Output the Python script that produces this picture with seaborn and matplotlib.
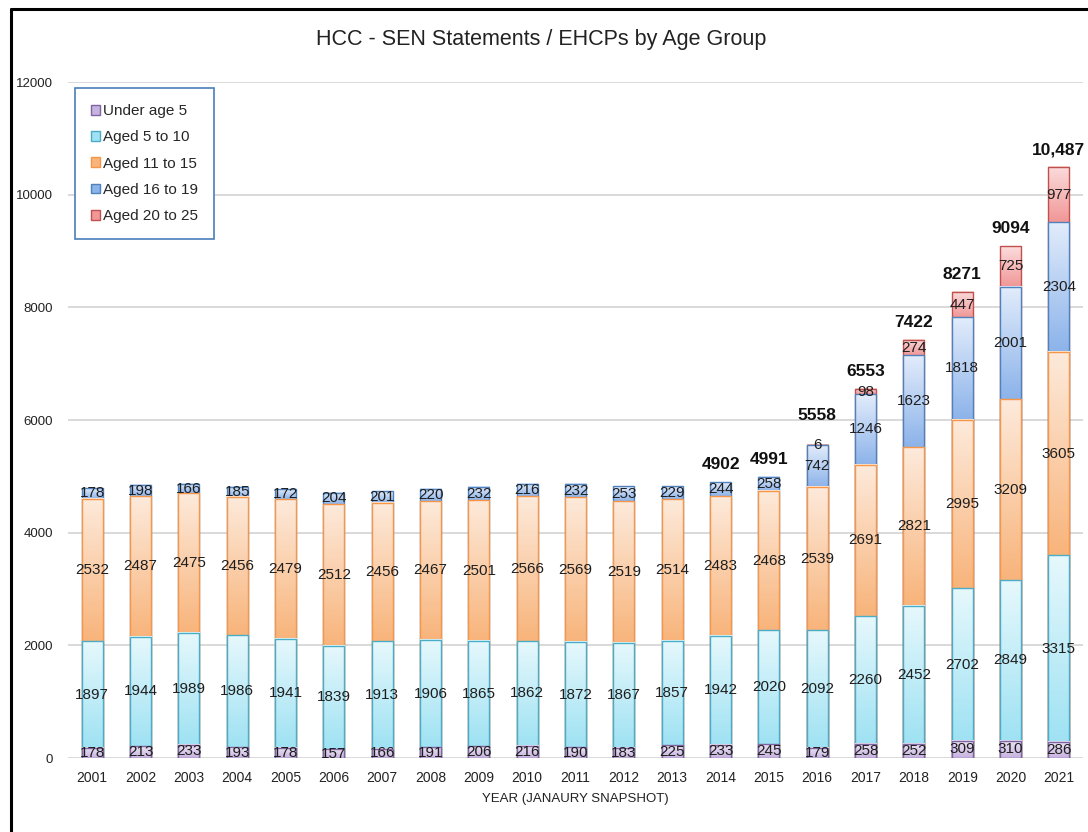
import numpy as np
import pandas as pd
import matplotlib.pyplot as plt
import seaborn as sns
from matplotlib import font_manager
from matplotlib.patches import Patch
from matplotlib.lines import Line2D
from matplotlib.colors import to_rgb

years = [2001, 2002, 2003, 2004, 2005, 2006, 2007, 2008, 2009, 2010, 2011,
         2012, 2013, 2014, 2015, 2016, 2017, 2018, 2019, 2020, 2021]
under_5 = [178, 213, 233, 193, 178, 157, 166, 191, 206, 216, 190,
           183, 225, 233, 245, 179, 258, 252, 309, 310, 286]
aged_5_10 = [1897, 1944, 1989, 1986, 1941, 1839, 1913, 1906, 1865, 1862, 1872,
             1867, 1857, 1942, 2020, 2092, 2260, 2452, 2702, 2849, 3315]
aged_11_15 = [2532, 2487, 2475, 2456, 2479, 2512, 2456, 2467, 2501, 2566, 2569,
              2519, 2514, 2483, 2468, 2539, 2691, 2821, 2995, 3209, 3605]
aged_16_19 = [178, 198, 166, 185, 172, 204, 201, 220, 232, 216, 232,
              253, 229, 244, 258, 742, 1246, 1623, 1818, 2001, 2304]
aged_20_25 = [0, 0, 0, 0, 0, 0, 0, 0, 0, 0, 0,
              0, 0, 0, 0, 6, 98, 274, 447, 725, 977]
groups = ['Under age 5', 'Aged 5 to 10', 'Aged 11 to 15', 'Aged 16 to 19', 'Aged 20 to 25']
first_total_year = 2014

# gradient colours (top, bottom) and outline per group
top_cols = ['#ece4f5', '#e6f8fc', '#fdeadb', '#e2ecfb', '#fbdcdc']
bot_cols = ['#c7b3df', '#9fe2f3', '#f8b47b', '#8cb3ea', '#f19797']
edge_cols = ['#8064a2', '#4bacc6', '#f79646', '#4f81bd', '#c0504d']

sns.set_theme(style="white")
plt.rcParams['font.family'] = ['Liberation Sans', 'DejaVu Sans']
names = {f.name for f in font_manager.fontManager.ttflist}
if 'Liberation Sans Narrow' in names:
    lab_font, lab_size = ['Liberation Sans Narrow', 'Liberation Sans'], 12.5
else:
    lab_font, lab_size = ['Liberation Sans', 'DejaVu Sans'], 11

fig = plt.figure(figsize=(10.88, 8.32), dpi=100)
ax = fig.add_axes([0.0625, 0.0889, 0.933, 0.8125])

values = [under_5, aged_5_10, aged_11_15, aged_16_19, aged_20_25]
cum = np.cumsum(np.array(values), axis=0)
df = pd.DataFrame({'Year': years})

for k in reversed(range(len(groups))):
    z = 2 + (len(groups) - k) * 2
    df['top'] = cum[k]
    n0 = len(ax.patches)
    sns.barplot(data=df, x='Year', y='top', color=edge_cols[k], saturation=1,
                width=0.435, edgecolor=edge_cols[k], linewidth=1.0,
                errorbar=None, ax=ax, zorder=z + 0.5)
    grad = np.linspace(to_rgb(top_cols[k]), to_rgb(bot_cols[k]), 64)[:, None, :]
    for j, p in enumerate(ax.patches[n0:]):
        lo = cum[k - 1][j] if k > 0 else 0
        hi = cum[k][j]
        if values[k][j] == 0:
            p.set_visible(False)
            continue
        p.set_facecolor('none')
        x0 = p.get_x()
        ax.imshow(grad, extent=(x0, x0 + p.get_width(), lo, hi),
                  aspect='auto', zorder=z, interpolation='bilinear')
        ax.text(j, (lo + hi) / 2, str(values[k][j]), ha='center', va='center',
                fontsize=lab_size, family=lab_font, color='#1e1e1e', zorder=40)

totals = cum[-1]
for j, yr in enumerate(years):
    if yr < first_total_year:
        continue
    t = int(totals[j])
    txt = f'{t:,}' if t >= 10000 else str(t)
    extra = 9 if yr == 2016 else 0
    ax.annotate(txt, (j, t), xytext=(0, 7 + extra), textcoords='offset points',
                ha='center', va='bottom', fontsize=12.5, weight='bold',
                color='#111111', zorder=40)

ax.set_xlim(-0.5, len(years) - 0.5)
ax.set_ylim(0, 12000)
ax.set_yticks(range(0, 12001, 2000))
ax.yaxis.grid(True, color='#d9d9d9', linewidth=1.4)
ax.xaxis.grid(False)
ax.set_axisbelow(True)
for s in ax.spines.values():
    s.set_visible(False)
ax.tick_params(axis='both', length=0, labelsize=10, colors='#222222')
ax.tick_params(axis='x', pad=9)
ax.tick_params(axis='y', pad=11, labelsize=9.5)
ax.set_xlabel('YEAR (JANAURY SNAPSHOT)', fontsize=9.5, color='#222222', labelpad=6)
ax.set_ylabel('')

fig.text(0.497, 0.952, 'HCC - SEN Statements / EHCPs by Age Group',
         ha='center', va='center', fontsize=15.5, color='#222222')

handles = [Patch(facecolor=bot_cols[k], edgecolor=edge_cols[k], linewidth=1)
           for k in range(len(groups))]
leg = ax.legend(handles, groups, loc='upper left', bbox_to_anchor=(0.007, 0.991),
                borderaxespad=0, fontsize=11, handlelength=0.6, handleheight=0.6,
                handletextpad=0.2, labelspacing=0.8, borderpad=1.05,
                fancybox=False, framealpha=1, edgecolor='#4a7ebb')
leg.get_frame().set_linewidth(1.2)
leg.set_zorder(50)

# outer frame lines (left and top)
fig.add_artist(Line2D([11 / 1088, 11 / 1088], [0, 1 - 9 / 832], color='black',
                      linewidth=2.2, transform=fig.transFigure))
fig.add_artist(Line2D([11 / 1088, 1], [1 - 9 / 832, 1 - 9 / 832], color='black',
                      linewidth=2.2, transform=fig.transFigure))

fig.savefig('out.png', dpi=100, facecolor='white')
